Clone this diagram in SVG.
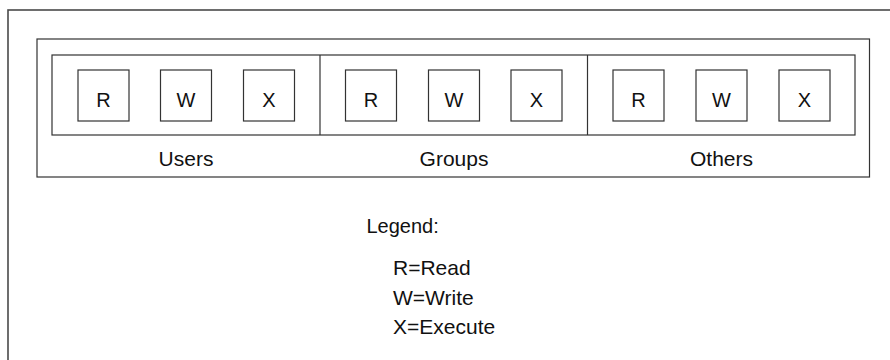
<svg xmlns="http://www.w3.org/2000/svg" width="890" height="360" viewBox="0 0 890 360">
<style>
  .frame{fill:none;stroke:#4a4a4a;stroke-width:1.6}
  .box{fill:#fff;stroke:#333;stroke-width:1.2}
  .ln{stroke:#333;stroke-width:1.2}
  .t{font-family:"Liberation Sans",Arial,sans-serif;fill:#111}
  .bl{font-size:20px;text-anchor:middle}
  .lab{font-size:21px;text-anchor:middle}
  .leg{font-size:20px}
  .legi{font-size:21px}
</style>
<rect width="890" height="360" fill="#fff"/>
<rect class="frame" x="8" y="10" width="900" height="370"/>
<g id="outer">
  <rect class="box" x="37" y="39" width="832.5" height="138"/>
  <rect class="box" x="52" y="55" width="803" height="80"/>
  <line class="ln" x1="320" y1="55" x2="320" y2="135"/>
  <line class="ln" x1="587.5" y1="55" x2="587.5" y2="135"/>
</g>
<g id="users">
  <g id="users-r"><rect class="box" x="78" y="70" width="51" height="51"/><text class="t bl" x="103.5" y="106.5">R</text></g>
  <g id="users-w"><rect class="box" x="160.5" y="70" width="51" height="51"/><text class="t bl" x="186" y="106.5">W</text></g>
  <g id="users-x"><rect class="box" x="243.5" y="70" width="51" height="51"/><text class="t bl" x="269" y="106.5">X</text></g>
  <text class="t lab" x="186" y="166">Users</text>
</g>
<g id="groups">
  <g id="groups-r"><rect class="box" x="345.5" y="70" width="51" height="51"/><text class="t bl" x="371" y="106.5">R</text></g>
  <g id="groups-w"><rect class="box" x="428.5" y="70" width="51" height="51"/><text class="t bl" x="454" y="106.5">W</text></g>
  <g id="groups-x"><rect class="box" x="511" y="70" width="51" height="51"/><text class="t bl" x="536.5" y="106.5">X</text></g>
  <text class="t lab" x="454" y="166">Groups</text>
</g>
<g id="others">
  <g id="others-r"><rect class="box" x="613" y="70" width="51" height="51"/><text class="t bl" x="638.5" y="106.5">R</text></g>
  <g id="others-w"><rect class="box" x="696" y="70" width="51" height="51"/><text class="t bl" x="721.5" y="106.5">W</text></g>
  <g id="others-x"><rect class="box" x="779" y="70" width="51" height="51"/><text class="t bl" x="804.5" y="106.5">X</text></g>
  <text class="t lab" x="721.5" y="166">Others</text>
</g>
<g id="legend">
  <text class="t leg" x="366.5" y="233">Legend:</text>
  <text class="t legi" x="393" y="275">R=Read</text>
  <text class="t legi" x="393" y="304.5">W=Write</text>
  <text class="t legi" x="393" y="333.5">X=Execute</text>
</g>
<g id="connectors"></g>
</svg>
